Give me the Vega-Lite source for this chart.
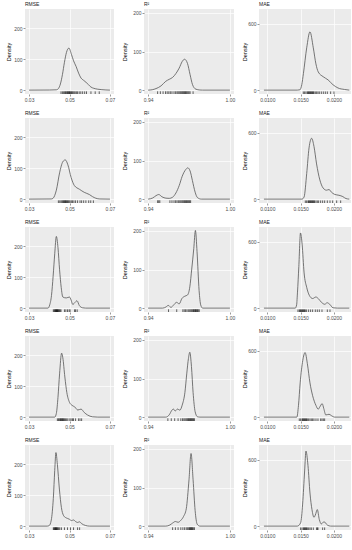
{
  "$schema": "https://vega.github.io/schema/vega-lite/v6.json",
  "padding": {"left": 6, "top": 2, "right": 0, "bottom": 0},
  "columns": 3,
  "spacing": {"row": 9, "column": 7},
  "align": "each",
  "data": {"values": [
    {"metric":"RMSE","run":1,"kind":"curve","value":0.030,"density":0},
    {"metric":"RMSE","run":1,"kind":"curve","value":0.040,"density":0.3},
    {"metric":"RMSE","run":1,"kind":"curve","value":0.0435,"density":1},
    {"metric":"RMSE","run":1,"kind":"curve","value":0.0445,"density":5},
    {"metric":"RMSE","run":1,"kind":"curve","value":0.0455,"density":20},
    {"metric":"RMSE","run":1,"kind":"curve","value":0.0465,"density":50},
    {"metric":"RMSE","run":1,"kind":"curve","value":0.0475,"density":90},
    {"metric":"RMSE","run":1,"kind":"curve","value":0.0485,"density":122},
    {"metric":"RMSE","run":1,"kind":"curve","value":0.0497,"density":136},
    {"metric":"RMSE","run":1,"kind":"curve","value":0.0510,"density":115},
    {"metric":"RMSE","run":1,"kind":"curve","value":0.0520,"density":95},
    {"metric":"RMSE","run":1,"kind":"curve","value":0.0533,"density":76},
    {"metric":"RMSE","run":1,"kind":"curve","value":0.0545,"density":55},
    {"metric":"RMSE","run":1,"kind":"curve","value":0.0557,"density":39},
    {"metric":"RMSE","run":1,"kind":"curve","value":0.0569,"density":32},
    {"metric":"RMSE","run":1,"kind":"curve","value":0.0581,"density":26},
    {"metric":"RMSE","run":1,"kind":"curve","value":0.0593,"density":18},
    {"metric":"RMSE","run":1,"kind":"curve","value":0.0606,"density":10},
    {"metric":"RMSE","run":1,"kind":"curve","value":0.0620,"density":6},
    {"metric":"RMSE","run":1,"kind":"curve","value":0.0640,"density":3},
    {"metric":"RMSE","run":1,"kind":"curve","value":0.0660,"density":1.5},
    {"metric":"RMSE","run":1,"kind":"curve","value":0.0680,"density":0.5},
    {"metric":"RMSE","run":1,"kind":"curve","value":0.0700,"density":0},

    {"metric":"RMSE","run":2,"kind":"curve","value":0.030,"density":0},
    {"metric":"RMSE","run":2,"kind":"curve","value":0.0410,"density":0.5},
    {"metric":"RMSE","run":2,"kind":"curve","value":0.0419,"density":3},
    {"metric":"RMSE","run":2,"kind":"curve","value":0.0435,"density":29},
    {"metric":"RMSE","run":2,"kind":"curve","value":0.0451,"density":85},
    {"metric":"RMSE","run":2,"kind":"curve","value":0.0467,"density":121},
    {"metric":"RMSE","run":2,"kind":"curve","value":0.0479,"density":127},
    {"metric":"RMSE","run":2,"kind":"curve","value":0.0492,"density":111},
    {"metric":"RMSE","run":2,"kind":"curve","value":0.0508,"density":70},
    {"metric":"RMSE","run":2,"kind":"curve","value":0.0524,"density":44},
    {"metric":"RMSE","run":2,"kind":"curve","value":0.0549,"density":32},
    {"metric":"RMSE","run":2,"kind":"curve","value":0.0573,"density":22},
    {"metric":"RMSE","run":2,"kind":"curve","value":0.0598,"density":15},
    {"metric":"RMSE","run":2,"kind":"curve","value":0.0614,"density":8},
    {"metric":"RMSE","run":2,"kind":"curve","value":0.0630,"density":3},
    {"metric":"RMSE","run":2,"kind":"curve","value":0.0650,"density":0.5},
    {"metric":"RMSE","run":2,"kind":"curve","value":0.0700,"density":0},

    {"metric":"RMSE","run":3,"kind":"curve","value":0.030,"density":0},
    {"metric":"RMSE","run":3,"kind":"curve","value":0.0394,"density":0},
    {"metric":"RMSE","run":3,"kind":"curve","value":0.0402,"density":10},
    {"metric":"RMSE","run":3,"kind":"curve","value":0.0411,"density":41},
    {"metric":"RMSE","run":3,"kind":"curve","value":0.0419,"density":103},
    {"metric":"RMSE","run":3,"kind":"curve","value":0.0427,"density":176},
    {"metric":"RMSE","run":3,"kind":"curve","value":0.0435,"density":232},
    {"metric":"RMSE","run":3,"kind":"curve","value":0.0443,"density":196},
    {"metric":"RMSE","run":3,"kind":"curve","value":0.0451,"density":124},
    {"metric":"RMSE","run":3,"kind":"curve","value":0.0459,"density":67},
    {"metric":"RMSE","run":3,"kind":"curve","value":0.0467,"density":36},
    {"metric":"RMSE","run":3,"kind":"curve","value":0.0484,"density":33},
    {"metric":"RMSE","run":3,"kind":"curve","value":0.0500,"density":36},
    {"metric":"RMSE","run":3,"kind":"curve","value":0.0508,"density":26},
    {"metric":"RMSE","run":3,"kind":"curve","value":0.0516,"density":12},
    {"metric":"RMSE","run":3,"kind":"curve","value":0.0528,"density":19},
    {"metric":"RMSE","run":3,"kind":"curve","value":0.0537,"density":24},
    {"metric":"RMSE","run":3,"kind":"curve","value":0.0549,"density":8},
    {"metric":"RMSE","run":3,"kind":"curve","value":0.0565,"density":1},
    {"metric":"RMSE","run":3,"kind":"curve","value":0.0580,"density":0},
    {"metric":"RMSE","run":3,"kind":"curve","value":0.0700,"density":0},

    {"metric":"RMSE","run":4,"kind":"curve","value":0.030,"density":0},
    {"metric":"RMSE","run":4,"kind":"curve","value":0.0427,"density":0},
    {"metric":"RMSE","run":4,"kind":"curve","value":0.0435,"density":12},
    {"metric":"RMSE","run":4,"kind":"curve","value":0.0443,"density":64},
    {"metric":"RMSE","run":4,"kind":"curve","value":0.0451,"density":140},
    {"metric":"RMSE","run":4,"kind":"curve","value":0.0461,"density":207},
    {"metric":"RMSE","run":4,"kind":"curve","value":0.0467,"density":192},
    {"metric":"RMSE","run":4,"kind":"curve","value":0.0477,"density":130},
    {"metric":"RMSE","run":4,"kind":"curve","value":0.0487,"density":79},
    {"metric":"RMSE","run":4,"kind":"curve","value":0.0500,"density":48},
    {"metric":"RMSE","run":4,"kind":"curve","value":0.0513,"density":38},
    {"metric":"RMSE","run":4,"kind":"curve","value":0.0526,"density":33},
    {"metric":"RMSE","run":4,"kind":"curve","value":0.0541,"density":23},
    {"metric":"RMSE","run":4,"kind":"curve","value":0.0557,"density":26},
    {"metric":"RMSE","run":4,"kind":"curve","value":0.0573,"density":15},
    {"metric":"RMSE","run":4,"kind":"curve","value":0.0589,"density":7},
    {"metric":"RMSE","run":4,"kind":"curve","value":0.0614,"density":1},
    {"metric":"RMSE","run":4,"kind":"curve","value":0.0640,"density":0},
    {"metric":"RMSE","run":4,"kind":"curve","value":0.0700,"density":0},

    {"metric":"RMSE","run":5,"kind":"curve","value":0.030,"density":0},
    {"metric":"RMSE","run":5,"kind":"curve","value":0.0390,"density":0},
    {"metric":"RMSE","run":5,"kind":"curve","value":0.0400,"density":2},
    {"metric":"RMSE","run":5,"kind":"curve","value":0.0410,"density":20},
    {"metric":"RMSE","run":5,"kind":"curve","value":0.0420,"density":90},
    {"metric":"RMSE","run":5,"kind":"curve","value":0.0427,"density":180},
    {"metric":"RMSE","run":5,"kind":"curve","value":0.0433,"density":238},
    {"metric":"RMSE","run":5,"kind":"curve","value":0.0440,"density":200},
    {"metric":"RMSE","run":5,"kind":"curve","value":0.0450,"density":120},
    {"metric":"RMSE","run":5,"kind":"curve","value":0.0460,"density":60},
    {"metric":"RMSE","run":5,"kind":"curve","value":0.0470,"density":35},
    {"metric":"RMSE","run":5,"kind":"curve","value":0.0480,"density":28},
    {"metric":"RMSE","run":5,"kind":"curve","value":0.0490,"density":25},
    {"metric":"RMSE","run":5,"kind":"curve","value":0.0500,"density":22},
    {"metric":"RMSE","run":5,"kind":"curve","value":0.0510,"density":18},
    {"metric":"RMSE","run":5,"kind":"curve","value":0.0520,"density":20},
    {"metric":"RMSE","run":5,"kind":"curve","value":0.0530,"density":15},
    {"metric":"RMSE","run":5,"kind":"curve","value":0.0540,"density":12},
    {"metric":"RMSE","run":5,"kind":"curve","value":0.0550,"density":14},
    {"metric":"RMSE","run":5,"kind":"curve","value":0.0560,"density":8},
    {"metric":"RMSE","run":5,"kind":"curve","value":0.0580,"density":2},
    {"metric":"RMSE","run":5,"kind":"curve","value":0.0600,"density":0},
    {"metric":"RMSE","run":5,"kind":"curve","value":0.0700,"density":0},

    {"metric":"R2","run":1,"kind":"curve","value":0.940,"density":0},
    {"metric":"R2","run":1,"kind":"curve","value":0.943,"density":1},
    {"metric":"R2","run":1,"kind":"curve","value":0.9458,"density":4},
    {"metric":"R2","run":1,"kind":"curve","value":0.9495,"density":11},
    {"metric":"R2","run":1,"kind":"curve","value":0.953,"density":23},
    {"metric":"R2","run":1,"kind":"curve","value":0.9555,"density":28},
    {"metric":"R2","run":1,"kind":"curve","value":0.958,"density":33},
    {"metric":"R2","run":1,"kind":"curve","value":0.9604,"density":43},
    {"metric":"R2","run":1,"kind":"curve","value":0.9628,"density":57},
    {"metric":"R2","run":1,"kind":"curve","value":0.965,"density":74},
    {"metric":"R2","run":1,"kind":"curve","value":0.9667,"density":80},
    {"metric":"R2","run":1,"kind":"curve","value":0.9689,"density":69},
    {"metric":"R2","run":1,"kind":"curve","value":0.9708,"density":40},
    {"metric":"R2","run":1,"kind":"curve","value":0.9725,"density":15},
    {"metric":"R2","run":1,"kind":"curve","value":0.975,"density":2.5},
    {"metric":"R2","run":1,"kind":"curve","value":0.978,"density":0.3},
    {"metric":"R2","run":1,"kind":"curve","value":0.980,"density":0},
    {"metric":"R2","run":1,"kind":"curve","value":1.000,"density":0},

    {"metric":"R2","run":2,"kind":"curve","value":0.940,"density":0},
    {"metric":"R2","run":2,"kind":"curve","value":0.9434,"density":3},
    {"metric":"R2","run":2,"kind":"curve","value":0.9458,"density":9},
    {"metric":"R2","run":2,"kind":"curve","value":0.9478,"density":12},
    {"metric":"R2","run":2,"kind":"curve","value":0.9502,"density":6},
    {"metric":"R2","run":2,"kind":"curve","value":0.9531,"density":2.5},
    {"metric":"R2","run":2,"kind":"curve","value":0.9555,"density":2},
    {"metric":"R2","run":2,"kind":"curve","value":0.958,"density":5},
    {"metric":"R2","run":2,"kind":"curve","value":0.9604,"density":16},
    {"metric":"R2","run":2,"kind":"curve","value":0.9628,"density":35},
    {"metric":"R2","run":2,"kind":"curve","value":0.965,"density":59},
    {"metric":"R2","run":2,"kind":"curve","value":0.9677,"density":77},
    {"metric":"R2","run":2,"kind":"curve","value":0.9691,"density":81},
    {"metric":"R2","run":2,"kind":"curve","value":0.9708,"density":73},
    {"metric":"R2","run":2,"kind":"curve","value":0.9725,"density":48},
    {"metric":"R2","run":2,"kind":"curve","value":0.9745,"density":18},
    {"metric":"R2","run":2,"kind":"curve","value":0.9762,"density":4},
    {"metric":"R2","run":2,"kind":"curve","value":0.979,"density":0},
    {"metric":"R2","run":2,"kind":"curve","value":1.000,"density":0},

    {"metric":"R2","run":3,"kind":"curve","value":0.940,"density":0},
    {"metric":"R2","run":3,"kind":"curve","value":0.9507,"density":0},
    {"metric":"R2","run":3,"kind":"curve","value":0.9531,"density":3},
    {"metric":"R2","run":3,"kind":"curve","value":0.9548,"density":7},
    {"metric":"R2","run":3,"kind":"curve","value":0.9568,"density":2},
    {"metric":"R2","run":3,"kind":"curve","value":0.9587,"density":8},
    {"metric":"R2","run":3,"kind":"curve","value":0.9609,"density":15},
    {"metric":"R2","run":3,"kind":"curve","value":0.9628,"density":11},
    {"metric":"R2","run":3,"kind":"curve","value":0.9648,"density":25},
    {"metric":"R2","run":3,"kind":"curve","value":0.967,"density":31},
    {"metric":"R2","run":3,"kind":"curve","value":0.9689,"density":34},
    {"metric":"R2","run":3,"kind":"curve","value":0.9706,"density":55},
    {"metric":"R2","run":3,"kind":"curve","value":0.972,"density":101},
    {"metric":"R2","run":3,"kind":"curve","value":0.9735,"density":154},
    {"metric":"R2","run":3,"kind":"curve","value":0.9747,"density":201},
    {"metric":"R2","run":3,"kind":"curve","value":0.9759,"density":146},
    {"metric":"R2","run":3,"kind":"curve","value":0.9774,"density":46},
    {"metric":"R2","run":3,"kind":"curve","value":0.9786,"density":8},
    {"metric":"R2","run":3,"kind":"curve","value":0.980,"density":0},
    {"metric":"R2","run":3,"kind":"curve","value":1.000,"density":0},

    {"metric":"R2","run":4,"kind":"curve","value":0.940,"density":0},
    {"metric":"R2","run":4,"kind":"curve","value":0.953,"density":0},
    {"metric":"R2","run":4,"kind":"curve","value":0.9555,"density":6},
    {"metric":"R2","run":4,"kind":"curve","value":0.9575,"density":18},
    {"metric":"R2","run":4,"kind":"curve","value":0.9585,"density":21},
    {"metric":"R2","run":4,"kind":"curve","value":0.9599,"density":16},
    {"metric":"R2","run":4,"kind":"curve","value":0.9616,"density":21},
    {"metric":"R2","run":4,"kind":"curve","value":0.9633,"density":18},
    {"metric":"R2","run":4,"kind":"curve","value":0.965,"density":31},
    {"metric":"R2","run":4,"kind":"curve","value":0.967,"density":64},
    {"metric":"R2","run":4,"kind":"curve","value":0.9684,"density":114},
    {"metric":"R2","run":4,"kind":"curve","value":0.9696,"density":152},
    {"metric":"R2","run":4,"kind":"curve","value":0.9706,"density":168},
    {"metric":"R2","run":4,"kind":"curve","value":0.9718,"density":131},
    {"metric":"R2","run":4,"kind":"curve","value":0.973,"density":64},
    {"metric":"R2","run":4,"kind":"curve","value":0.9745,"density":14},
    {"metric":"R2","run":4,"kind":"curve","value":0.9762,"density":1},
    {"metric":"R2","run":4,"kind":"curve","value":0.978,"density":0},
    {"metric":"R2","run":4,"kind":"curve","value":1.000,"density":0},

    {"metric":"R2","run":5,"kind":"curve","value":0.940,"density":0},
    {"metric":"R2","run":5,"kind":"curve","value":0.953,"density":0},
    {"metric":"R2","run":5,"kind":"curve","value":0.956,"density":3},
    {"metric":"R2","run":5,"kind":"curve","value":0.958,"density":8},
    {"metric":"R2","run":5,"kind":"curve","value":0.960,"density":12},
    {"metric":"R2","run":5,"kind":"curve","value":0.962,"density":10},
    {"metric":"R2","run":5,"kind":"curve","value":0.964,"density":15},
    {"metric":"R2","run":5,"kind":"curve","value":0.966,"density":25},
    {"metric":"R2","run":5,"kind":"curve","value":0.968,"density":45},
    {"metric":"R2","run":5,"kind":"curve","value":0.970,"density":120},
    {"metric":"R2","run":5,"kind":"curve","value":0.9715,"density":188},
    {"metric":"R2","run":5,"kind":"curve","value":0.973,"density":120},
    {"metric":"R2","run":5,"kind":"curve","value":0.9745,"density":40},
    {"metric":"R2","run":5,"kind":"curve","value":0.976,"density":5},
    {"metric":"R2","run":5,"kind":"curve","value":0.978,"density":0},
    {"metric":"R2","run":5,"kind":"curve","value":1.000,"density":0},

    {"metric":"MAE","run":1,"kind":"curve","value":0.0095,"density":0},
    {"metric":"MAE","run":1,"kind":"curve","value":0.0145,"density":0},
    {"metric":"MAE","run":1,"kind":"curve","value":0.0149,"density":3},
    {"metric":"MAE","run":1,"kind":"curve","value":0.01517,"density":49},
    {"metric":"MAE","run":1,"kind":"curve","value":0.01542,"density":151},
    {"metric":"MAE","run":1,"kind":"curve","value":0.01591,"density":383},
    {"metric":"MAE","run":1,"kind":"curve","value":0.0164,"density":528},
    {"metric":"MAE","run":1,"kind":"curve","value":0.0169,"density":383},
    {"metric":"MAE","run":1,"kind":"curve","value":0.01729,"density":238},
    {"metric":"MAE","run":1,"kind":"curve","value":0.01764,"density":165},
    {"metric":"MAE","run":1,"kind":"curve","value":0.01837,"density":122},
    {"metric":"MAE","run":1,"kind":"curve","value":0.01911,"density":93},
    {"metric":"MAE","run":1,"kind":"curve","value":0.01985,"density":49},
    {"metric":"MAE","run":1,"kind":"curve","value":0.02059,"density":20},
    {"metric":"MAE","run":1,"kind":"curve","value":0.02158,"density":6},
    {"metric":"MAE","run":1,"kind":"curve","value":0.0223,"density":0},

    {"metric":"MAE","run":2,"kind":"curve","value":0.0095,"density":0},
    {"metric":"MAE","run":2,"kind":"curve","value":0.0152,"density":0},
    {"metric":"MAE","run":2,"kind":"curve","value":0.01552,"density":20},
    {"metric":"MAE","run":2,"kind":"curve","value":0.01591,"density":232},
    {"metric":"MAE","run":2,"kind":"curve","value":0.01626,"density":464},
    {"metric":"MAE","run":2,"kind":"curve","value":0.01665,"density":551},
    {"metric":"MAE","run":2,"kind":"curve","value":0.0170,"density":478},
    {"metric":"MAE","run":2,"kind":"curve","value":0.01739,"density":319},
    {"metric":"MAE","run":2,"kind":"curve","value":0.01788,"density":174},
    {"metric":"MAE","run":2,"kind":"curve","value":0.01837,"density":101},
    {"metric":"MAE","run":2,"kind":"curve","value":0.01887,"density":81},
    {"metric":"MAE","run":2,"kind":"curve","value":0.01926,"density":87},
    {"metric":"MAE","run":2,"kind":"curve","value":0.0196,"density":64},
    {"metric":"MAE","run":2,"kind":"curve","value":0.0201,"density":43},
    {"metric":"MAE","run":2,"kind":"curve","value":0.02074,"density":35},
    {"metric":"MAE","run":2,"kind":"curve","value":0.02133,"density":23},
    {"metric":"MAE","run":2,"kind":"curve","value":0.0218,"density":5},
    {"metric":"MAE","run":2,"kind":"curve","value":0.0223,"density":0},

    {"metric":"MAE","run":3,"kind":"curve","value":0.0095,"density":0},
    {"metric":"MAE","run":3,"kind":"curve","value":0.0142,"density":0},
    {"metric":"MAE","run":3,"kind":"curve","value":0.0144,"density":30},
    {"metric":"MAE","run":3,"kind":"curve","value":0.01453,"density":145},
    {"metric":"MAE","run":3,"kind":"curve","value":0.01473,"density":377},
    {"metric":"MAE","run":3,"kind":"curve","value":0.01498,"density":681},
    {"metric":"MAE","run":3,"kind":"curve","value":0.01522,"density":580},
    {"metric":"MAE","run":3,"kind":"curve","value":0.01552,"density":319},
    {"metric":"MAE","run":3,"kind":"curve","value":0.01591,"density":188},
    {"metric":"MAE","run":3,"kind":"curve","value":0.0163,"density":116},
    {"metric":"MAE","run":3,"kind":"curve","value":0.0168,"density":87},
    {"metric":"MAE","run":3,"kind":"curve","value":0.01729,"density":101},
    {"metric":"MAE","run":3,"kind":"curve","value":0.01764,"density":87},
    {"metric":"MAE","run":3,"kind":"curve","value":0.01813,"density":52},
    {"metric":"MAE","run":3,"kind":"curve","value":0.01862,"density":35},
    {"metric":"MAE","run":3,"kind":"curve","value":0.01897,"density":49},
    {"metric":"MAE","run":3,"kind":"curve","value":0.01936,"density":35},
    {"metric":"MAE","run":3,"kind":"curve","value":0.01985,"density":3},
    {"metric":"MAE","run":3,"kind":"curve","value":0.0205,"density":0},
    {"metric":"MAE","run":3,"kind":"curve","value":0.0223,"density":0},

    {"metric":"MAE","run":4,"kind":"curve","value":0.0095,"density":0},
    {"metric":"MAE","run":4,"kind":"curve","value":0.01443,"density":0},
    {"metric":"MAE","run":4,"kind":"curve","value":0.01468,"density":107},
    {"metric":"MAE","run":4,"kind":"curve","value":0.01493,"density":310},
    {"metric":"MAE","run":4,"kind":"curve","value":0.01532,"density":513},
    {"metric":"MAE","run":4,"kind":"curve","value":0.01567,"density":585},
    {"metric":"MAE","run":4,"kind":"curve","value":0.01601,"density":484},
    {"metric":"MAE","run":4,"kind":"curve","value":0.0164,"density":310},
    {"metric":"MAE","run":4,"kind":"curve","value":0.0168,"density":194},
    {"metric":"MAE","run":4,"kind":"curve","value":0.01729,"density":107},
    {"metric":"MAE","run":4,"kind":"curve","value":0.01764,"density":72},
    {"metric":"MAE","run":4,"kind":"curve","value":0.01788,"density":93},
    {"metric":"MAE","run":4,"kind":"curve","value":0.01823,"density":122},
    {"metric":"MAE","run":4,"kind":"curve","value":0.01847,"density":78},
    {"metric":"MAE","run":4,"kind":"curve","value":0.01877,"density":20},
    {"metric":"MAE","run":4,"kind":"curve","value":0.01926,"density":26},
    {"metric":"MAE","run":4,"kind":"curve","value":0.0196,"density":14},
    {"metric":"MAE","run":4,"kind":"curve","value":0.0201,"density":0},
    {"metric":"MAE","run":4,"kind":"curve","value":0.0223,"density":0},

    {"metric":"MAE","run":5,"kind":"curve","value":0.0095,"density":0},
    {"metric":"MAE","run":5,"kind":"curve","value":0.0145,"density":0},
    {"metric":"MAE","run":5,"kind":"curve","value":0.0150,"density":30},
    {"metric":"MAE","run":5,"kind":"curve","value":0.0153,"density":200},
    {"metric":"MAE","run":5,"kind":"curve","value":0.0156,"density":500},
    {"metric":"MAE","run":5,"kind":"curve","value":0.0158,"density":680},
    {"metric":"MAE","run":5,"kind":"curve","value":0.0161,"density":550},
    {"metric":"MAE","run":5,"kind":"curve","value":0.0164,"density":300},
    {"metric":"MAE","run":5,"kind":"curve","value":0.0167,"density":150},
    {"metric":"MAE","run":5,"kind":"curve","value":0.0170,"density":80},
    {"metric":"MAE","run":5,"kind":"curve","value":0.0172,"density":100},
    {"metric":"MAE","run":5,"kind":"curve","value":0.0175,"density":150},
    {"metric":"MAE","run":5,"kind":"curve","value":0.0178,"density":60},
    {"metric":"MAE","run":5,"kind":"curve","value":0.0181,"density":20},
    {"metric":"MAE","run":5,"kind":"curve","value":0.0185,"density":40},
    {"metric":"MAE","run":5,"kind":"curve","value":0.0190,"density":10},
    {"metric":"MAE","run":5,"kind":"curve","value":0.0195,"density":0},
    {"metric":"MAE","run":5,"kind":"curve","value":0.0223,"density":0},

    {"metric":"RMSE","run":1,"kind":"rug","value":0.0458},{"metric":"RMSE","run":1,"kind":"rug","value":0.0465},{"metric":"RMSE","run":1,"kind":"rug","value":0.0471},{"metric":"RMSE","run":1,"kind":"rug","value":0.0476},{"metric":"RMSE","run":1,"kind":"rug","value":0.0480},{"metric":"RMSE","run":1,"kind":"rug","value":0.0484},{"metric":"RMSE","run":1,"kind":"rug","value":0.0488},{"metric":"RMSE","run":1,"kind":"rug","value":0.0491},{"metric":"RMSE","run":1,"kind":"rug","value":0.0494},{"metric":"RMSE","run":1,"kind":"rug","value":0.0497},{"metric":"RMSE","run":1,"kind":"rug","value":0.0500},{"metric":"RMSE","run":1,"kind":"rug","value":0.0503},{"metric":"RMSE","run":1,"kind":"rug","value":0.0506},{"metric":"RMSE","run":1,"kind":"rug","value":0.0510},{"metric":"RMSE","run":1,"kind":"rug","value":0.0514},{"metric":"RMSE","run":1,"kind":"rug","value":0.0518},{"metric":"RMSE","run":1,"kind":"rug","value":0.0523},{"metric":"RMSE","run":1,"kind":"rug","value":0.0528},{"metric":"RMSE","run":1,"kind":"rug","value":0.0534},{"metric":"RMSE","run":1,"kind":"rug","value":0.0540},{"metric":"RMSE","run":1,"kind":"rug","value":0.0548},{"metric":"RMSE","run":1,"kind":"rug","value":0.0556},{"metric":"RMSE","run":1,"kind":"rug","value":0.0565},{"metric":"RMSE","run":1,"kind":"rug","value":0.0575},{"metric":"RMSE","run":1,"kind":"rug","value":0.0584},{"metric":"RMSE","run":1,"kind":"rug","value":0.0606},{"metric":"RMSE","run":1,"kind":"rug","value":0.0627},{"metric":"RMSE","run":1,"kind":"rug","value":0.0647},

    {"metric":"RMSE","run":2,"kind":"rug","value":0.0445},{"metric":"RMSE","run":2,"kind":"rug","value":0.0452},{"metric":"RMSE","run":2,"kind":"rug","value":0.0458},{"metric":"RMSE","run":2,"kind":"rug","value":0.0463},{"metric":"RMSE","run":2,"kind":"rug","value":0.0467},{"metric":"RMSE","run":2,"kind":"rug","value":0.0471},{"metric":"RMSE","run":2,"kind":"rug","value":0.0474},{"metric":"RMSE","run":2,"kind":"rug","value":0.0477},{"metric":"RMSE","run":2,"kind":"rug","value":0.0480},{"metric":"RMSE","run":2,"kind":"rug","value":0.0483},{"metric":"RMSE","run":2,"kind":"rug","value":0.0486},{"metric":"RMSE","run":2,"kind":"rug","value":0.0490},{"metric":"RMSE","run":2,"kind":"rug","value":0.0494},{"metric":"RMSE","run":2,"kind":"rug","value":0.0498},{"metric":"RMSE","run":2,"kind":"rug","value":0.0503},{"metric":"RMSE","run":2,"kind":"rug","value":0.0509},{"metric":"RMSE","run":2,"kind":"rug","value":0.0515},{"metric":"RMSE","run":2,"kind":"rug","value":0.0522},{"metric":"RMSE","run":2,"kind":"rug","value":0.0530},{"metric":"RMSE","run":2,"kind":"rug","value":0.0540},{"metric":"RMSE","run":2,"kind":"rug","value":0.0552},{"metric":"RMSE","run":2,"kind":"rug","value":0.0560},{"metric":"RMSE","run":2,"kind":"rug","value":0.0570},{"metric":"RMSE","run":2,"kind":"rug","value":0.0581},{"metric":"RMSE","run":2,"kind":"rug","value":0.0595},{"metric":"RMSE","run":2,"kind":"rug","value":0.0605},{"metric":"RMSE","run":2,"kind":"rug","value":0.0618},

    {"metric":"RMSE","run":3,"kind":"rug","value":0.0420},{"metric":"RMSE","run":3,"kind":"rug","value":0.0424},{"metric":"RMSE","run":3,"kind":"rug","value":0.0427},{"metric":"RMSE","run":3,"kind":"rug","value":0.0430},{"metric":"RMSE","run":3,"kind":"rug","value":0.0432},{"metric":"RMSE","run":3,"kind":"rug","value":0.0434},{"metric":"RMSE","run":3,"kind":"rug","value":0.0436},{"metric":"RMSE","run":3,"kind":"rug","value":0.0438},{"metric":"RMSE","run":3,"kind":"rug","value":0.0440},{"metric":"RMSE","run":3,"kind":"rug","value":0.0442},{"metric":"RMSE","run":3,"kind":"rug","value":0.0444},{"metric":"RMSE","run":3,"kind":"rug","value":0.0447},{"metric":"RMSE","run":3,"kind":"rug","value":0.0450},{"metric":"RMSE","run":3,"kind":"rug","value":0.0454},{"metric":"RMSE","run":3,"kind":"rug","value":0.0458},{"metric":"RMSE","run":3,"kind":"rug","value":0.0475},{"metric":"RMSE","run":3,"kind":"rug","value":0.0482},{"metric":"RMSE","run":3,"kind":"rug","value":0.0490},{"metric":"RMSE","run":3,"kind":"rug","value":0.0498},{"metric":"RMSE","run":3,"kind":"rug","value":0.0503},{"metric":"RMSE","run":3,"kind":"rug","value":0.0525},{"metric":"RMSE","run":3,"kind":"rug","value":0.0530},{"metric":"RMSE","run":3,"kind":"rug","value":0.0538},

    {"metric":"RMSE","run":4,"kind":"rug","value":0.0440},{"metric":"RMSE","run":4,"kind":"rug","value":0.0445},{"metric":"RMSE","run":4,"kind":"rug","value":0.0449},{"metric":"RMSE","run":4,"kind":"rug","value":0.0453},{"metric":"RMSE","run":4,"kind":"rug","value":0.0456},{"metric":"RMSE","run":4,"kind":"rug","value":0.0459},{"metric":"RMSE","run":4,"kind":"rug","value":0.0462},{"metric":"RMSE","run":4,"kind":"rug","value":0.0465},{"metric":"RMSE","run":4,"kind":"rug","value":0.0468},{"metric":"RMSE","run":4,"kind":"rug","value":0.0471},{"metric":"RMSE","run":4,"kind":"rug","value":0.0475},{"metric":"RMSE","run":4,"kind":"rug","value":0.0480},{"metric":"RMSE","run":4,"kind":"rug","value":0.0486},{"metric":"RMSE","run":4,"kind":"rug","value":0.0492},{"metric":"RMSE","run":4,"kind":"rug","value":0.0502},{"metric":"RMSE","run":4,"kind":"rug","value":0.0508},{"metric":"RMSE","run":4,"kind":"rug","value":0.0515},{"metric":"RMSE","run":4,"kind":"rug","value":0.0520},{"metric":"RMSE","run":4,"kind":"rug","value":0.0530},{"metric":"RMSE","run":4,"kind":"rug","value":0.0545},{"metric":"RMSE","run":4,"kind":"rug","value":0.0552},{"metric":"RMSE","run":4,"kind":"rug","value":0.0560},

    {"metric":"RMSE","run":5,"kind":"rug","value":0.0420},{"metric":"RMSE","run":5,"kind":"rug","value":0.0423},{"metric":"RMSE","run":5,"kind":"rug","value":0.0426},{"metric":"RMSE","run":5,"kind":"rug","value":0.0429},{"metric":"RMSE","run":5,"kind":"rug","value":0.0431},{"metric":"RMSE","run":5,"kind":"rug","value":0.0433},{"metric":"RMSE","run":5,"kind":"rug","value":0.0435},{"metric":"RMSE","run":5,"kind":"rug","value":0.0437},{"metric":"RMSE","run":5,"kind":"rug","value":0.0440},{"metric":"RMSE","run":5,"kind":"rug","value":0.0443},{"metric":"RMSE","run":5,"kind":"rug","value":0.0447},{"metric":"RMSE","run":5,"kind":"rug","value":0.0452},{"metric":"RMSE","run":5,"kind":"rug","value":0.0460},{"metric":"RMSE","run":5,"kind":"rug","value":0.0475},{"metric":"RMSE","run":5,"kind":"rug","value":0.0490},{"metric":"RMSE","run":5,"kind":"rug","value":0.0505},{"metric":"RMSE","run":5,"kind":"rug","value":0.0520},{"metric":"RMSE","run":5,"kind":"rug","value":0.0540},{"metric":"RMSE","run":5,"kind":"rug","value":0.0550},

    {"metric":"R2","run":1,"kind":"rug","value":0.9470},{"metric":"R2","run":1,"kind":"rug","value":0.9490},{"metric":"R2","run":1,"kind":"rug","value":0.9510},{"metric":"R2","run":1,"kind":"rug","value":0.9528},{"metric":"R2","run":1,"kind":"rug","value":0.9540},{"metric":"R2","run":1,"kind":"rug","value":0.9552},{"metric":"R2","run":1,"kind":"rug","value":0.9563},{"metric":"R2","run":1,"kind":"rug","value":0.9575},{"metric":"R2","run":1,"kind":"rug","value":0.9590},{"metric":"R2","run":1,"kind":"rug","value":0.9602},{"metric":"R2","run":1,"kind":"rug","value":0.9612},{"metric":"R2","run":1,"kind":"rug","value":0.9620},{"metric":"R2","run":1,"kind":"rug","value":0.9628},{"metric":"R2","run":1,"kind":"rug","value":0.9636},{"metric":"R2","run":1,"kind":"rug","value":0.9643},{"metric":"R2","run":1,"kind":"rug","value":0.9650},{"metric":"R2","run":1,"kind":"rug","value":0.9656},{"metric":"R2","run":1,"kind":"rug","value":0.9662},{"metric":"R2","run":1,"kind":"rug","value":0.9668},{"metric":"R2","run":1,"kind":"rug","value":0.9674},{"metric":"R2","run":1,"kind":"rug","value":0.9680},{"metric":"R2","run":1,"kind":"rug","value":0.9686},{"metric":"R2","run":1,"kind":"rug","value":0.9693},{"metric":"R2","run":1,"kind":"rug","value":0.9700},{"metric":"R2","run":1,"kind":"rug","value":0.9708},{"metric":"R2","run":1,"kind":"rug","value":0.9730},

    {"metric":"R2","run":2,"kind":"rug","value":0.9470},{"metric":"R2","run":2,"kind":"rug","value":0.9478},{"metric":"R2","run":2,"kind":"rug","value":0.9486},{"metric":"R2","run":2,"kind":"rug","value":0.9560},{"metric":"R2","run":2,"kind":"rug","value":0.9575},{"metric":"R2","run":2,"kind":"rug","value":0.9590},{"metric":"R2","run":2,"kind":"rug","value":0.9602},{"metric":"R2","run":2,"kind":"rug","value":0.9612},{"metric":"R2","run":2,"kind":"rug","value":0.9622},{"metric":"R2","run":2,"kind":"rug","value":0.9632},{"metric":"R2","run":2,"kind":"rug","value":0.9640},{"metric":"R2","run":2,"kind":"rug","value":0.9648},{"metric":"R2","run":2,"kind":"rug","value":0.9655},{"metric":"R2","run":2,"kind":"rug","value":0.9662},{"metric":"R2","run":2,"kind":"rug","value":0.9668},{"metric":"R2","run":2,"kind":"rug","value":0.9675},{"metric":"R2","run":2,"kind":"rug","value":0.9681},{"metric":"R2","run":2,"kind":"rug","value":0.9687},{"metric":"R2","run":2,"kind":"rug","value":0.9693},{"metric":"R2","run":2,"kind":"rug","value":0.9699},{"metric":"R2","run":2,"kind":"rug","value":0.9705},{"metric":"R2","run":2,"kind":"rug","value":0.9712},

    {"metric":"R2","run":3,"kind":"rug","value":0.9550},{"metric":"R2","run":3,"kind":"rug","value":0.9610},{"metric":"R2","run":3,"kind":"rug","value":0.9655},{"metric":"R2","run":3,"kind":"rug","value":0.9665},{"metric":"R2","run":3,"kind":"rug","value":0.9675},{"metric":"R2","run":3,"kind":"rug","value":0.9685},{"metric":"R2","run":3,"kind":"rug","value":0.9695},{"metric":"R2","run":3,"kind":"rug","value":0.9705},{"metric":"R2","run":3,"kind":"rug","value":0.9713},{"metric":"R2","run":3,"kind":"rug","value":0.9720},{"metric":"R2","run":3,"kind":"rug","value":0.9727},{"metric":"R2","run":3,"kind":"rug","value":0.9733},{"metric":"R2","run":3,"kind":"rug","value":0.9738},{"metric":"R2","run":3,"kind":"rug","value":0.9743},{"metric":"R2","run":3,"kind":"rug","value":0.9748},{"metric":"R2","run":3,"kind":"rug","value":0.9752},{"metric":"R2","run":3,"kind":"rug","value":0.9757},{"metric":"R2","run":3,"kind":"rug","value":0.9762},{"metric":"R2","run":3,"kind":"rug","value":0.9768},{"metric":"R2","run":3,"kind":"rug","value":0.9775},

    {"metric":"R2","run":4,"kind":"rug","value":0.9545},{"metric":"R2","run":4,"kind":"rug","value":0.9570},{"metric":"R2","run":4,"kind":"rug","value":0.9595},{"metric":"R2","run":4,"kind":"rug","value":0.9620},{"metric":"R2","run":4,"kind":"rug","value":0.9640},{"metric":"R2","run":4,"kind":"rug","value":0.9652},{"metric":"R2","run":4,"kind":"rug","value":0.9662},{"metric":"R2","run":4,"kind":"rug","value":0.9670},{"metric":"R2","run":4,"kind":"rug","value":0.9678},{"metric":"R2","run":4,"kind":"rug","value":0.9685},{"metric":"R2","run":4,"kind":"rug","value":0.9691},{"metric":"R2","run":4,"kind":"rug","value":0.9697},{"metric":"R2","run":4,"kind":"rug","value":0.9702},{"metric":"R2","run":4,"kind":"rug","value":0.9707},{"metric":"R2","run":4,"kind":"rug","value":0.9712},{"metric":"R2","run":4,"kind":"rug","value":0.9717},{"metric":"R2","run":4,"kind":"rug","value":0.9722},{"metric":"R2","run":4,"kind":"rug","value":0.9727},{"metric":"R2","run":4,"kind":"rug","value":0.9733},{"metric":"R2","run":4,"kind":"rug","value":0.9740},

    {"metric":"R2","run":5,"kind":"rug","value":0.9580},{"metric":"R2","run":5,"kind":"rug","value":0.9600},{"metric":"R2","run":5,"kind":"rug","value":0.9620},{"metric":"R2","run":5,"kind":"rug","value":0.9640},{"metric":"R2","run":5,"kind":"rug","value":0.9655},{"metric":"R2","run":5,"kind":"rug","value":0.9668},{"metric":"R2","run":5,"kind":"rug","value":0.9680},{"metric":"R2","run":5,"kind":"rug","value":0.9690},{"metric":"R2","run":5,"kind":"rug","value":0.9698},{"metric":"R2","run":5,"kind":"rug","value":0.9704},{"metric":"R2","run":5,"kind":"rug","value":0.9709},{"metric":"R2","run":5,"kind":"rug","value":0.9713},{"metric":"R2","run":5,"kind":"rug","value":0.9717},{"metric":"R2","run":5,"kind":"rug","value":0.9721},{"metric":"R2","run":5,"kind":"rug","value":0.9726},{"metric":"R2","run":5,"kind":"rug","value":0.9732},{"metric":"R2","run":5,"kind":"rug","value":0.9740},

    {"metric":"MAE","run":1,"kind":"rug","value":0.0154},{"metric":"MAE","run":1,"kind":"rug","value":0.0156},{"metric":"MAE","run":1,"kind":"rug","value":0.0158},{"metric":"MAE","run":1,"kind":"rug","value":0.0160},{"metric":"MAE","run":1,"kind":"rug","value":0.0161},{"metric":"MAE","run":1,"kind":"rug","value":0.0162},{"metric":"MAE","run":1,"kind":"rug","value":0.0163},{"metric":"MAE","run":1,"kind":"rug","value":0.0164},{"metric":"MAE","run":1,"kind":"rug","value":0.0165},{"metric":"MAE","run":1,"kind":"rug","value":0.0166},{"metric":"MAE","run":1,"kind":"rug","value":0.0167},{"metric":"MAE","run":1,"kind":"rug","value":0.0168},{"metric":"MAE","run":1,"kind":"rug","value":0.0169},{"metric":"MAE","run":1,"kind":"rug","value":0.0170},{"metric":"MAE","run":1,"kind":"rug","value":0.0172},{"metric":"MAE","run":1,"kind":"rug","value":0.0174},{"metric":"MAE","run":1,"kind":"rug","value":0.0176},{"metric":"MAE","run":1,"kind":"rug","value":0.0178},{"metric":"MAE","run":1,"kind":"rug","value":0.0181},{"metric":"MAE","run":1,"kind":"rug","value":0.0184},{"metric":"MAE","run":1,"kind":"rug","value":0.0187},{"metric":"MAE","run":1,"kind":"rug","value":0.0190},{"metric":"MAE","run":1,"kind":"rug","value":0.0195},{"metric":"MAE","run":1,"kind":"rug","value":0.0200},

    {"metric":"MAE","run":2,"kind":"rug","value":0.0157},{"metric":"MAE","run":2,"kind":"rug","value":0.0159},{"metric":"MAE","run":2,"kind":"rug","value":0.0161},{"metric":"MAE","run":2,"kind":"rug","value":0.0162},{"metric":"MAE","run":2,"kind":"rug","value":0.0163},{"metric":"MAE","run":2,"kind":"rug","value":0.0164},{"metric":"MAE","run":2,"kind":"rug","value":0.0165},{"metric":"MAE","run":2,"kind":"rug","value":0.0166},{"metric":"MAE","run":2,"kind":"rug","value":0.0167},{"metric":"MAE","run":2,"kind":"rug","value":0.0168},{"metric":"MAE","run":2,"kind":"rug","value":0.0169},{"metric":"MAE","run":2,"kind":"rug","value":0.0170},{"metric":"MAE","run":2,"kind":"rug","value":0.0171},{"metric":"MAE","run":2,"kind":"rug","value":0.0173},{"metric":"MAE","run":2,"kind":"rug","value":0.0175},{"metric":"MAE","run":2,"kind":"rug","value":0.0177},{"metric":"MAE","run":2,"kind":"rug","value":0.0180},{"metric":"MAE","run":2,"kind":"rug","value":0.0183},{"metric":"MAE","run":2,"kind":"rug","value":0.0186},{"metric":"MAE","run":2,"kind":"rug","value":0.0190},{"metric":"MAE","run":2,"kind":"rug","value":0.0194},{"metric":"MAE","run":2,"kind":"rug","value":0.0198},{"metric":"MAE","run":2,"kind":"rug","value":0.0204},{"metric":"MAE","run":2,"kind":"rug","value":0.0210},

    {"metric":"MAE","run":3,"kind":"rug","value":0.0146},{"metric":"MAE","run":3,"kind":"rug","value":0.0148},{"metric":"MAE","run":3,"kind":"rug","value":0.0149},{"metric":"MAE","run":3,"kind":"rug","value":0.0150},{"metric":"MAE","run":3,"kind":"rug","value":0.0151},{"metric":"MAE","run":3,"kind":"rug","value":0.0152},{"metric":"MAE","run":3,"kind":"rug","value":0.0153},{"metric":"MAE","run":3,"kind":"rug","value":0.0154},{"metric":"MAE","run":3,"kind":"rug","value":0.0155},{"metric":"MAE","run":3,"kind":"rug","value":0.0156},{"metric":"MAE","run":3,"kind":"rug","value":0.0157},{"metric":"MAE","run":3,"kind":"rug","value":0.0159},{"metric":"MAE","run":3,"kind":"rug","value":0.0162},{"metric":"MAE","run":3,"kind":"rug","value":0.0165},{"metric":"MAE","run":3,"kind":"rug","value":0.0168},{"metric":"MAE","run":3,"kind":"rug","value":0.0172},{"metric":"MAE","run":3,"kind":"rug","value":0.0175},{"metric":"MAE","run":3,"kind":"rug","value":0.0178},{"metric":"MAE","run":3,"kind":"rug","value":0.0182},{"metric":"MAE","run":3,"kind":"rug","value":0.0190},{"metric":"MAE","run":3,"kind":"rug","value":0.0194},

    {"metric":"MAE","run":4,"kind":"rug","value":0.0148},{"metric":"MAE","run":4,"kind":"rug","value":0.0150},{"metric":"MAE","run":4,"kind":"rug","value":0.0152},{"metric":"MAE","run":4,"kind":"rug","value":0.0153},{"metric":"MAE","run":4,"kind":"rug","value":0.0154},{"metric":"MAE","run":4,"kind":"rug","value":0.0155},{"metric":"MAE","run":4,"kind":"rug","value":0.0156},{"metric":"MAE","run":4,"kind":"rug","value":0.0157},{"metric":"MAE","run":4,"kind":"rug","value":0.0158},{"metric":"MAE","run":4,"kind":"rug","value":0.0159},{"metric":"MAE","run":4,"kind":"rug","value":0.0160},{"metric":"MAE","run":4,"kind":"rug","value":0.0162},{"metric":"MAE","run":4,"kind":"rug","value":0.0164},{"metric":"MAE","run":4,"kind":"rug","value":0.0166},{"metric":"MAE","run":4,"kind":"rug","value":0.0168},{"metric":"MAE","run":4,"kind":"rug","value":0.0170},{"metric":"MAE","run":4,"kind":"rug","value":0.0173},{"metric":"MAE","run":4,"kind":"rug","value":0.0176},{"metric":"MAE","run":4,"kind":"rug","value":0.0180},{"metric":"MAE","run":4,"kind":"rug","value":0.0182},{"metric":"MAE","run":4,"kind":"rug","value":0.0184},{"metric":"MAE","run":4,"kind":"rug","value":0.0186},

    {"metric":"MAE","run":5,"kind":"rug","value":0.0150},{"metric":"MAE","run":5,"kind":"rug","value":0.0152},{"metric":"MAE","run":5,"kind":"rug","value":0.0154},{"metric":"MAE","run":5,"kind":"rug","value":0.0155},{"metric":"MAE","run":5,"kind":"rug","value":0.0156},{"metric":"MAE","run":5,"kind":"rug","value":0.0157},{"metric":"MAE","run":5,"kind":"rug","value":0.0158},{"metric":"MAE","run":5,"kind":"rug","value":0.0159},{"metric":"MAE","run":5,"kind":"rug","value":0.0160},{"metric":"MAE","run":5,"kind":"rug","value":0.0162},{"metric":"MAE","run":5,"kind":"rug","value":0.0164},{"metric":"MAE","run":5,"kind":"rug","value":0.0166},{"metric":"MAE","run":5,"kind":"rug","value":0.0169},{"metric":"MAE","run":5,"kind":"rug","value":0.0174},{"metric":"MAE","run":5,"kind":"rug","value":0.0175},{"metric":"MAE","run":5,"kind":"rug","value":0.0176},{"metric":"MAE","run":5,"kind":"rug","value":0.0183},{"metric":"MAE","run":5,"kind":"rug","value":0.0186}
  ]},
  "concat": [
    {"title": "RMSE", "width": 89, "height": 85, "transform": [{"filter": "datum.metric == 'RMSE' && datum.run == 1"}], "layer": [
      {"transform": [{"filter": "datum.kind == 'curve'"}], "mark": {"type": "line", "color": "#555555", "strokeWidth": 0.8, "interpolate": "monotone"},
       "encoding": {"x": {"field": "value", "type": "quantitative", "scale": {"domain": [0.028, 0.072], "nice": false, "zero": false}, "axis": {"title": null, "values": [0.03,0.04,0.05,0.06,0.07], "format": ".2f"}},
                    "y": {"field": "density", "type": "quantitative", "scale": {"domain": [-12.5, 262.5], "nice": false}, "axis": {"title": "Density", "values": [0,50,100,150,200,250]}}}},
      {"transform": [{"filter": "datum.kind == 'rug'"}], "mark": {"type": "rule", "color": "#000000", "strokeWidth": 0.6}, "encoding": {"x": {"field": "value", "type": "quantitative"}, "y": {"datum": -12.5}, "y2": {"datum": -4}}}
    ]},
    {"title": "R²", "width": 90, "height": 85, "transform": [{"filter": "datum.metric == 'R2' && datum.run == 1"}], "layer": [
      {"transform": [{"filter": "datum.kind == 'curve'"}], "mark": {"type": "line", "color": "#555555", "strokeWidth": 0.8, "interpolate": "monotone"},
       "encoding": {"x": {"field": "value", "type": "quantitative", "scale": {"domain": [0.937, 1.003], "nice": false, "zero": false}, "axis": {"title": null, "values": [0.94,0.96,0.98,1.0], "format": ".2f"}},
                    "y": {"field": "density", "type": "quantitative", "scale": {"domain": [-10, 210], "nice": false}, "axis": {"title": "Density", "titlePadding": 5, "values": [0,50,100,150,200]}}}},
      {"transform": [{"filter": "datum.kind == 'rug'"}], "mark": {"type": "rule", "color": "#000000", "strokeWidth": 0.6}, "encoding": {"x": {"field": "value", "type": "quantitative"}, "y": {"datum": -10}, "y2": {"datum": -3}}}
    ]},
    {"title": "MAE", "width": 92, "height": 85, "transform": [{"filter": "datum.metric == 'MAE' && datum.run == 1"}], "layer": [
      {"transform": [{"filter": "datum.kind == 'curve'"}], "mark": {"type": "line", "color": "#555555", "strokeWidth": 0.8, "interpolate": "monotone"},
       "encoding": {"x": {"field": "value", "type": "quantitative", "scale": {"domain": [0.00876, 0.02255], "nice": false, "zero": false}, "axis": {"title": null, "values": [0.01,0.0125,0.015,0.0175,0.02,0.0225], "labelExpr": "datum.value > 0.022 ? '0.02' : format(datum.value, '.4f')", "labelAlign": {"condition": {"test": "datum.value > 0.022", "value": "right"}, "value": "center"}}},
                    "y": {"field": "density", "type": "quantitative", "scale": {"domain": [-35, 735], "nice": false}, "axis": {"title": "Density", "titlePadding": 0, "values": [0,200,400,600]}}}},
      {"transform": [{"filter": "datum.kind == 'rug'"}], "mark": {"type": "rule", "color": "#000000", "strokeWidth": 0.6}, "encoding": {"x": {"field": "value", "type": "quantitative"}, "y": {"datum": -35}, "y2": {"datum": -12}}}
    ]},

    {"title": "RMSE", "width": 89, "height": 85, "transform": [{"filter": "datum.metric == 'RMSE' && datum.run == 2"}], "layer": [
      {"transform": [{"filter": "datum.kind == 'curve'"}], "mark": {"type": "line", "color": "#555555", "strokeWidth": 0.8, "interpolate": "monotone"},
       "encoding": {"x": {"field": "value", "type": "quantitative", "scale": {"domain": [0.028, 0.072], "nice": false, "zero": false}, "axis": {"title": null, "values": [0.03,0.04,0.05,0.06,0.07], "format": ".2f"}},
                    "y": {"field": "density", "type": "quantitative", "scale": {"domain": [-12.5, 262.5], "nice": false}, "axis": {"title": "Density", "values": [0,50,100,150,200,250]}}}},
      {"transform": [{"filter": "datum.kind == 'rug'"}], "mark": {"type": "rule", "color": "#000000", "strokeWidth": 0.6}, "encoding": {"x": {"field": "value", "type": "quantitative"}, "y": {"datum": -12.5}, "y2": {"datum": -4}}}
    ]},
    {"title": "R²", "width": 90, "height": 85, "transform": [{"filter": "datum.metric == 'R2' && datum.run == 2"}], "layer": [
      {"transform": [{"filter": "datum.kind == 'curve'"}], "mark": {"type": "line", "color": "#555555", "strokeWidth": 0.8, "interpolate": "monotone"},
       "encoding": {"x": {"field": "value", "type": "quantitative", "scale": {"domain": [0.937, 1.003], "nice": false, "zero": false}, "axis": {"title": null, "values": [0.94,0.96,0.98,1.0], "format": ".2f"}},
                    "y": {"field": "density", "type": "quantitative", "scale": {"domain": [-10, 210], "nice": false}, "axis": {"title": "Density", "titlePadding": 5, "values": [0,50,100,150,200]}}}},
      {"transform": [{"filter": "datum.kind == 'rug'"}], "mark": {"type": "rule", "color": "#000000", "strokeWidth": 0.6}, "encoding": {"x": {"field": "value", "type": "quantitative"}, "y": {"datum": -10}, "y2": {"datum": -3}}}
    ]},
    {"title": "MAE", "width": 92, "height": 85, "transform": [{"filter": "datum.metric == 'MAE' && datum.run == 2"}], "layer": [
      {"transform": [{"filter": "datum.kind == 'curve'"}], "mark": {"type": "line", "color": "#555555", "strokeWidth": 0.8, "interpolate": "monotone"},
       "encoding": {"x": {"field": "value", "type": "quantitative", "scale": {"domain": [0.00876, 0.02255], "nice": false, "zero": false}, "axis": {"title": null, "values": [0.01,0.0125,0.015,0.0175,0.02,0.0225], "labelExpr": "datum.value > 0.022 ? '0.02' : format(datum.value, '.4f')", "labelAlign": {"condition": {"test": "datum.value > 0.022", "value": "right"}, "value": "center"}}},
                    "y": {"field": "density", "type": "quantitative", "scale": {"domain": [-35, 735], "nice": false}, "axis": {"title": "Density", "titlePadding": 0, "values": [0,200,400,600]}}}},
      {"transform": [{"filter": "datum.kind == 'rug'"}], "mark": {"type": "rule", "color": "#000000", "strokeWidth": 0.6}, "encoding": {"x": {"field": "value", "type": "quantitative"}, "y": {"datum": -35}, "y2": {"datum": -12}}}
    ]},

    {"title": "RMSE", "width": 89, "height": 85, "transform": [{"filter": "datum.metric == 'RMSE' && datum.run == 3"}], "layer": [
      {"transform": [{"filter": "datum.kind == 'curve'"}], "mark": {"type": "line", "color": "#555555", "strokeWidth": 0.8, "interpolate": "monotone"},
       "encoding": {"x": {"field": "value", "type": "quantitative", "scale": {"domain": [0.028, 0.072], "nice": false, "zero": false}, "axis": {"title": null, "values": [0.03,0.04,0.05,0.06,0.07], "format": ".2f"}},
                    "y": {"field": "density", "type": "quantitative", "scale": {"domain": [-12.5, 262.5], "nice": false}, "axis": {"title": "Density", "values": [0,50,100,150,200,250]}}}},
      {"transform": [{"filter": "datum.kind == 'rug'"}], "mark": {"type": "rule", "color": "#000000", "strokeWidth": 0.6}, "encoding": {"x": {"field": "value", "type": "quantitative"}, "y": {"datum": -12.5}, "y2": {"datum": -4}}}
    ]},
    {"title": "R²", "width": 90, "height": 85, "transform": [{"filter": "datum.metric == 'R2' && datum.run == 3"}], "layer": [
      {"transform": [{"filter": "datum.kind == 'curve'"}], "mark": {"type": "line", "color": "#555555", "strokeWidth": 0.8, "interpolate": "monotone"},
       "encoding": {"x": {"field": "value", "type": "quantitative", "scale": {"domain": [0.937, 1.003], "nice": false, "zero": false}, "axis": {"title": null, "values": [0.94,0.96,0.98,1.0], "format": ".2f"}},
                    "y": {"field": "density", "type": "quantitative", "scale": {"domain": [-10, 210], "nice": false}, "axis": {"title": "Density", "titlePadding": 5, "values": [0,50,100,150,200]}}}},
      {"transform": [{"filter": "datum.kind == 'rug'"}], "mark": {"type": "rule", "color": "#000000", "strokeWidth": 0.6}, "encoding": {"x": {"field": "value", "type": "quantitative"}, "y": {"datum": -10}, "y2": {"datum": -3}}}
    ]},
    {"title": "MAE", "width": 92, "height": 85, "transform": [{"filter": "datum.metric == 'MAE' && datum.run == 3"}], "layer": [
      {"transform": [{"filter": "datum.kind == 'curve'"}], "mark": {"type": "line", "color": "#555555", "strokeWidth": 0.8, "interpolate": "monotone"},
       "encoding": {"x": {"field": "value", "type": "quantitative", "scale": {"domain": [0.00876, 0.02255], "nice": false, "zero": false}, "axis": {"title": null, "values": [0.01,0.0125,0.015,0.0175,0.02,0.0225], "labelExpr": "datum.value > 0.022 ? '0.02' : format(datum.value, '.4f')", "labelAlign": {"condition": {"test": "datum.value > 0.022", "value": "right"}, "value": "center"}}},
                    "y": {"field": "density", "type": "quantitative", "scale": {"domain": [-35, 735], "nice": false}, "axis": {"title": "Density", "titlePadding": 0, "values": [0,200,400,600]}}}},
      {"transform": [{"filter": "datum.kind == 'rug'"}], "mark": {"type": "rule", "color": "#000000", "strokeWidth": 0.6}, "encoding": {"x": {"field": "value", "type": "quantitative"}, "y": {"datum": -35}, "y2": {"datum": -12}}}
    ]},

    {"title": "RMSE", "width": 89, "height": 85, "transform": [{"filter": "datum.metric == 'RMSE' && datum.run == 4"}], "layer": [
      {"transform": [{"filter": "datum.kind == 'curve'"}], "mark": {"type": "line", "color": "#555555", "strokeWidth": 0.8, "interpolate": "monotone"},
       "encoding": {"x": {"field": "value", "type": "quantitative", "scale": {"domain": [0.028, 0.072], "nice": false, "zero": false}, "axis": {"title": null, "values": [0.03,0.04,0.05,0.06,0.07], "format": ".2f"}},
                    "y": {"field": "density", "type": "quantitative", "scale": {"domain": [-12.5, 262.5], "nice": false}, "axis": {"title": "Density", "values": [0,50,100,150,200,250]}}}},
      {"transform": [{"filter": "datum.kind == 'rug'"}], "mark": {"type": "rule", "color": "#000000", "strokeWidth": 0.6}, "encoding": {"x": {"field": "value", "type": "quantitative"}, "y": {"datum": -12.5}, "y2": {"datum": -4}}}
    ]},
    {"title": "R²", "width": 90, "height": 85, "transform": [{"filter": "datum.metric == 'R2' && datum.run == 4"}], "layer": [
      {"transform": [{"filter": "datum.kind == 'curve'"}], "mark": {"type": "line", "color": "#555555", "strokeWidth": 0.8, "interpolate": "monotone"},
       "encoding": {"x": {"field": "value", "type": "quantitative", "scale": {"domain": [0.937, 1.003], "nice": false, "zero": false}, "axis": {"title": null, "values": [0.94,0.96,0.98,1.0], "format": ".2f"}},
                    "y": {"field": "density", "type": "quantitative", "scale": {"domain": [-10, 210], "nice": false}, "axis": {"title": "Density", "titlePadding": 5, "values": [0,50,100,150,200]}}}},
      {"transform": [{"filter": "datum.kind == 'rug'"}], "mark": {"type": "rule", "color": "#000000", "strokeWidth": 0.6}, "encoding": {"x": {"field": "value", "type": "quantitative"}, "y": {"datum": -10}, "y2": {"datum": -3}}}
    ]},
    {"title": "MAE", "width": 92, "height": 85, "transform": [{"filter": "datum.metric == 'MAE' && datum.run == 4"}], "layer": [
      {"transform": [{"filter": "datum.kind == 'curve'"}], "mark": {"type": "line", "color": "#555555", "strokeWidth": 0.8, "interpolate": "monotone"},
       "encoding": {"x": {"field": "value", "type": "quantitative", "scale": {"domain": [0.00876, 0.02255], "nice": false, "zero": false}, "axis": {"title": null, "values": [0.01,0.0125,0.015,0.0175,0.02,0.0225], "labelExpr": "datum.value > 0.022 ? '0.02' : format(datum.value, '.4f')", "labelAlign": {"condition": {"test": "datum.value > 0.022", "value": "right"}, "value": "center"}}},
                    "y": {"field": "density", "type": "quantitative", "scale": {"domain": [-35, 735], "nice": false}, "axis": {"title": "Density", "titlePadding": 0, "values": [0,200,400,600]}}}},
      {"transform": [{"filter": "datum.kind == 'rug'"}], "mark": {"type": "rule", "color": "#000000", "strokeWidth": 0.6}, "encoding": {"x": {"field": "value", "type": "quantitative"}, "y": {"datum": -35}, "y2": {"datum": -12}}}
    ]},

    {"title": "RMSE", "width": 89, "height": 85, "transform": [{"filter": "datum.metric == 'RMSE' && datum.run == 5"}], "layer": [
      {"transform": [{"filter": "datum.kind == 'curve'"}], "mark": {"type": "line", "color": "#555555", "strokeWidth": 0.8, "interpolate": "monotone"},
       "encoding": {"x": {"field": "value", "type": "quantitative", "scale": {"domain": [0.028, 0.072], "nice": false, "zero": false}, "axis": {"title": null, "values": [0.03,0.04,0.05,0.06,0.07], "format": ".2f"}},
                    "y": {"field": "density", "type": "quantitative", "scale": {"domain": [-12.5, 262.5], "nice": false}, "axis": {"title": "Density", "values": [0,50,100,150,200,250]}}}},
      {"transform": [{"filter": "datum.kind == 'rug'"}], "mark": {"type": "rule", "color": "#000000", "strokeWidth": 0.6}, "encoding": {"x": {"field": "value", "type": "quantitative"}, "y": {"datum": -12.5}, "y2": {"datum": -4}}}
    ]},
    {"title": "R²", "width": 90, "height": 85, "transform": [{"filter": "datum.metric == 'R2' && datum.run == 5"}], "layer": [
      {"transform": [{"filter": "datum.kind == 'curve'"}], "mark": {"type": "line", "color": "#555555", "strokeWidth": 0.8, "interpolate": "monotone"},
       "encoding": {"x": {"field": "value", "type": "quantitative", "scale": {"domain": [0.937, 1.003], "nice": false, "zero": false}, "axis": {"title": null, "values": [0.94,0.96,0.98,1.0], "format": ".2f"}},
                    "y": {"field": "density", "type": "quantitative", "scale": {"domain": [-10, 210], "nice": false}, "axis": {"title": "Density", "titlePadding": 5, "values": [0,50,100,150,200]}}}},
      {"transform": [{"filter": "datum.kind == 'rug'"}], "mark": {"type": "rule", "color": "#000000", "strokeWidth": 0.6}, "encoding": {"x": {"field": "value", "type": "quantitative"}, "y": {"datum": -10}, "y2": {"datum": -3}}}
    ]},
    {"title": "MAE", "width": 92, "height": 85, "transform": [{"filter": "datum.metric == 'MAE' && datum.run == 5"}], "layer": [
      {"transform": [{"filter": "datum.kind == 'curve'"}], "mark": {"type": "line", "color": "#555555", "strokeWidth": 0.8, "interpolate": "monotone"},
       "encoding": {"x": {"field": "value", "type": "quantitative", "scale": {"domain": [0.00876, 0.02255], "nice": false, "zero": false}, "axis": {"title": null, "values": [0.01,0.0125,0.015,0.0175,0.02,0.0225], "labelExpr": "datum.value > 0.022 ? '0.02' : format(datum.value, '.4f')", "labelAlign": {"condition": {"test": "datum.value > 0.022", "value": "right"}, "value": "center"}}},
                    "y": {"field": "density", "type": "quantitative", "scale": {"domain": [-35, 735], "nice": false}, "axis": {"title": "Density", "titlePadding": 0, "values": [0,200,400,600]}}}},
      {"transform": [{"filter": "datum.kind == 'rug'"}], "mark": {"type": "rule", "color": "#000000", "strokeWidth": 0.6}, "encoding": {"x": {"field": "value", "type": "quantitative"}, "y": {"datum": -35}, "y2": {"datum": -12}}}
    ]}
  ],
  "config": {
    "font": "Liberation Sans",
    "view": {"fill": "#EBEBEB", "stroke": null},
    "title": {"fontSize": 5, "fontWeight": "normal", "color": "#1A1A1A", "anchor": "start", "frame": "group", "offset": 2},
    "axis": {
      "domain": false,
      "gridColor": "#FFFFFF",
      "gridWidth": 0.7,
      "tickColor": "#333333",
      "tickSize": 2,
      "tickWidth": 0.5,
      "labelFontSize": 5,
      "labelColor": "#4D4D4D",
      "labelPadding": 1,
      "labelOverlap": false,
      "labelBound": false,
      "titleFontSize": 5.5,
      "titleColor": "#000000",
      "titleFontWeight": "normal",
      "titlePadding": 2
    },
    "axisX": {"labelFlush": false}
  }
}
